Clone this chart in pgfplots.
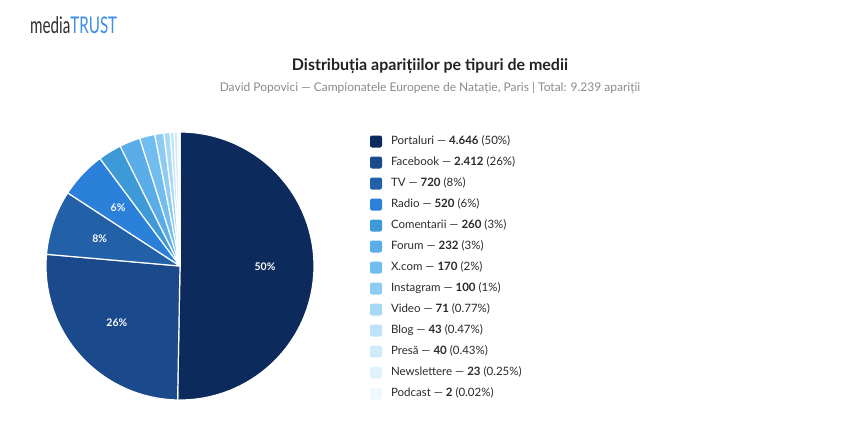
\documentclass[border=0pt]{standalone}
\usepackage{pgfplots}
\pgfplotsset{compat=1.18}
\usepackage{fontspec}
\setmainfont{Lato}
\usepackage{graphicx}
\definecolor{c0}{HTML}{0C2A5C}
\definecolor{c1}{HTML}{1A4A8C}
\definecolor{c2}{HTML}{2261A8}
\definecolor{c3}{HTML}{2B80D9}
\definecolor{c4}{HTML}{3D9AD6}
\definecolor{c5}{HTML}{5BADEA}
\definecolor{c6}{HTML}{72BDF0}
\definecolor{c7}{HTML}{8DCBF3}
\definecolor{c8}{HTML}{A7D8F6}
\definecolor{c9}{HTML}{BDE3F8}
\definecolor{c10}{HTML}{CFEBFA}
\definecolor{c11}{HTML}{DFF3FD}
\definecolor{c12}{HTML}{EEF8FE}
\definecolor{logogray}{HTML}{2E2E2E}
\definecolor{logoblue}{HTML}{3A8EE6}
\definecolor{titlecol}{HTML}{222222}
\definecolor{subcol}{HTML}{8A8A8A}
\definecolor{legcol}{HTML}{2A2A2A}
\tikzset{pct/.style={font=\bfseries\fontsize{10.5}{10.5}\selectfont, text=white}}
\def\total{9239}
\def\cum{0}
\newcommand\slice[4]{%
  \pgfmathsetmacro\sa{\cum/\total*360}%
  \pgfmathsetmacro\cumb{\cum+#1}%
  \pgfmathsetmacro\sb{\cumb/\total*360}%
  \pgfmathtruncatemacro\ns{(\sb-\sa)/2+3}%
  \pgfmathsetmacro\mid{(\sa+\sb)/2}%
  \pgfmathsetmacro\px{180+85*sin(\mid)}%
  \pgfmathsetmacro\py{266-85*cos(\mid)}%
  \xdef\cum{\cumb}%
  \edef\next{\noexpand\addplot[fill=#2, draw=white, line width=1.2pt, line join=round, domain=\sa:\sb, samples=\ns]
    ({180+134*sin(x)},{266-134*cos(x)}) -- (axis cs:180,266) -- cycle;}%
  \next
  \addlegendentry{#3}%
  \if\relax\detokenize{#4}\relax\else
    \edef\next{\noexpand\node[pct] at (axis cs:\px,\py) {#4};}%
    \next
  \fi
}
\begin{document}
\begin{tikzpicture}
\begin{axis}[
  width=860pt, height=432pt, scale only axis,
  xmin=0, xmax=860, ymin=0, ymax=432, y dir=reverse,
  hide axis, clip=false,
  legend image code/.code={\fill[#1, draw=none, rounded corners=2pt] (0pt,-6pt) rectangle (12pt,6pt);},
  legend cell align=left,
  legend style={at={(axis cs:370,135.5)}, anchor=north west, draw=none, fill=none,
    inner sep=0pt, outer sep=0pt, row sep=9pt, column sep=9pt,
    font=\fontsize{11.5}{12}\selectfont\color{legcol},
    nodes={inner sep=0pt, outer sep=0pt, text height=8.5pt, text depth=3.5pt}},
]
\path[draw=none] (rel axis cs:0,0) rectangle (rel axis cs:1,1);
\slice{4646}{c0}{Portaluri — \textbf{4.646} (50\%)}{50\%}
\slice{2412}{c1}{Facebook — \textbf{2.412} (26\%)}{26\%}
\slice{720}{c2}{TV — \textbf{720} (8\%)}{8\%}
\slice{520}{c3}{Radio — \textbf{520} (6\%)}{6\%}
\slice{260}{c4}{Comentarii — \textbf{260} (3\%)}{}
\slice{232}{c5}{Forum — \textbf{232} (3\%)}{}
\slice{170}{c6}{X.com — \textbf{170} (2\%)}{}
\slice{100}{c7}{Instagram — \textbf{100} (1\%)}{}
\slice{71}{c8}{Video — \textbf{71} (0.77\%)}{}
\slice{43}{c9}{Blog — \textbf{43} (0.47\%)}{}
\slice{40}{c10}{Presă — \textbf{40} (0.43\%)}{}
\slice{23}{c11}{Newslettere — \textbf{23} (0.25\%)}{}
\slice{2}{c12}{Podcast — \textbf{2} (0.02\%)}{}
\node[anchor=west, inner sep=0pt] at (axis cs:30,25) {\scalebox{0.66}[1]{\fontsize{23}{23}\selectfont\color{logogray}media\color{logoblue}TRUST}};
\node[inner sep=0pt] at (axis cs:430,66) {\fontsize{16}{16}\selectfont\bfseries\color{titlecol}Distribuția aparițiilor pe tipuri de medii};
\node[inner sep=0pt] at (axis cs:430,88) {\fontsize{12}{12}\selectfont\color{subcol}David Popovici — Campionatele Europene de Natație, Paris | Total: 9.239 apariții};
\end{axis}
\end{tikzpicture}
\end{document}
